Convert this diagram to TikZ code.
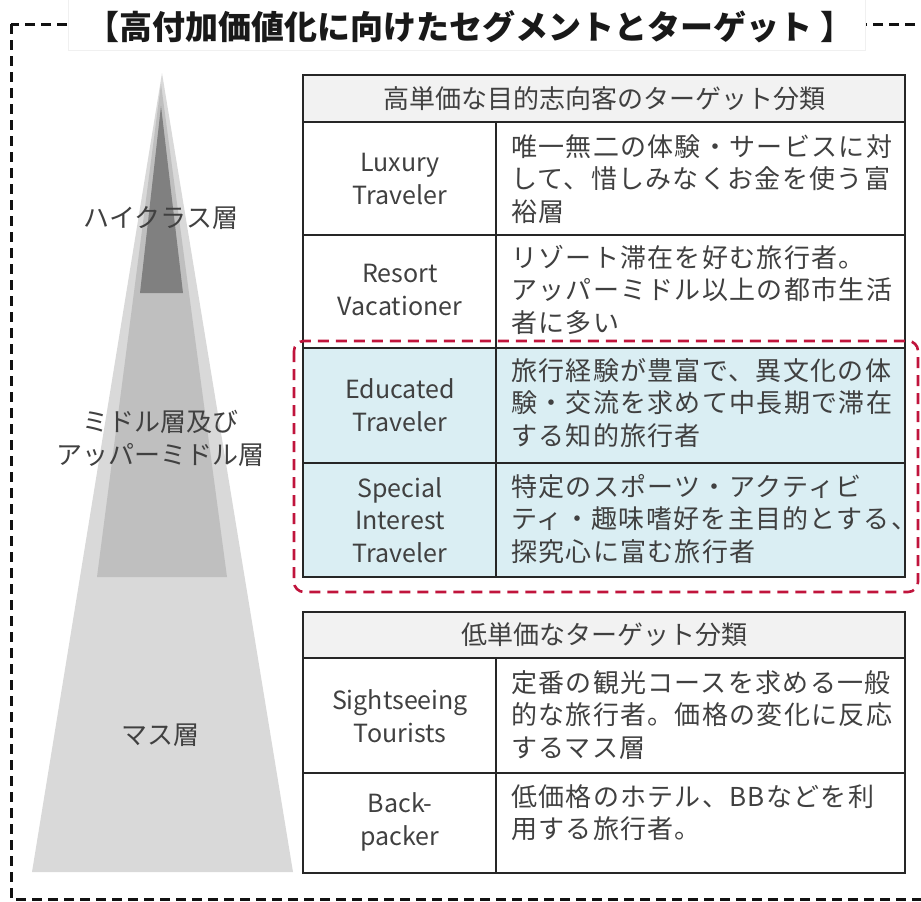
\documentclass[tikz,border=0pt]{standalone}
\usepackage{fontspec}
\setmainfont{Noto Sans CJK JP}
\newfontfamily\jpspaced{Noto Sans CJK JP}[LetterSpace=5]
\definecolor{framec}{HTML}{111111}
\definecolor{txt}{HTML}{404040}
\definecolor{pyrA}{HTML}{D9D9D9}
\definecolor{pyrB}{HTML}{BFBFBF}
\definecolor{pyrC}{HTML}{808080}
\definecolor{hdrfill}{HTML}{F2F2F2}
\definecolor{bluefill}{HTML}{DAEEF3}
\definecolor{tline}{HTML}{262626}
\definecolor{redd}{HTML}{C0143C}
\tikzset{
  frameline/.style={draw=framec, line width=3pt, dash pattern=on 10pt off 6pt},
  titlebox/.style={draw=black!6, fill=white, line width=1pt, inner sep=0pt},
  titletext/.style={font=\fontsize{33}{38}\selectfont\bfseries, text=black!90},
  pyrlab/.style={font=\fontsize{26}{33}\selectfont, text=txt, align=center, inner sep=0pt},
  cellbox/.style={draw=tline, line width=2pt},
  hdrtext/.style={font=\fontsize{26}{32}\selectfont, text=txt, inner sep=0pt},
  entext/.style={font=\fontsize{25}{32.5}\selectfont, text=txt, align=center, inner sep=0pt},
  jptext/.style={font=\jpspaced\fontsize{26}{32.5}\selectfont, text=txt, align=left, inner sep=0pt, anchor=north west},
  reddash/.style={draw=redd, line width=2.6pt, dash pattern=on 11pt off 7pt, rounded corners=10pt}
}
\begin{document}
\begin{tikzpicture}[x=1pt,y=-1pt]
\useasboundingbox (0,0) rectangle (921,902);
\clip (0,0) rectangle (921,902);

% outer dashed frame
\draw[frameline] (11,24) rectangle (980,899);

% title
\node[titlebox, minimum width=797pt, minimum height=56pt] (tbox) at (466.5,22) {};
\node[titletext] (title) at (470,27) {【高付加価値化に向けたセグメントとターゲット 】};

% pyramid
\fill[pyrA] (162,73) -- (293,872) -- (32,872) -- cycle;
\fill[pyrB] (161,84) -- (227,577) -- (97,577) -- cycle;
\fill[pyrC] (161,106) -- (183,293) -- (140,293) -- cycle;
\node[pyrlab] (high) at (161,218) {ハイクラス層};
\node[pyrlab] (mid) at (160,438) {ミドル層及び\\アッパーミドル層};
\node[pyrlab] (mass) at (160,735) {マス層};

% upper table
\draw[cellbox, fill=hdrfill] (303,75) rectangle (905,122);
\draw[cellbox] (303,122) rectangle (496,235);
\draw[cellbox] (496,122) rectangle (905,235);
\draw[cellbox] (303,235) rectangle (496,348);
\draw[cellbox] (496,235) rectangle (905,348);
\draw[cellbox, fill=bluefill] (303,348) rectangle (496,463);
\draw[cellbox, fill=bluefill] (496,348) rectangle (905,463);
\draw[cellbox, fill=bluefill] (303,463) rectangle (496,577);
\draw[cellbox, fill=bluefill] (496,463) rectangle (905,577);

\node[hdrtext] (h1) at (604,99) {高単価な目的志向客のターゲット分類};
\node[entext] (e1) at (400,179) {Luxury\\Traveler};
\node[jptext] (j1) at (511,134) {唯一無二の体験・サービスに対\\して、惜しみなくお金を使う富\\裕層};
\node[entext] (e2) at (400,290) {Resort\\Vacationer};
\node[jptext] (j2) at (511,245) {リゾート滞在を好む旅行者。\\アッパーミドル以上の都市生活\\者に多い};
\node[entext] (e3) at (400,405) {Educated\\Traveler};
\node[jptext] (j3) at (511,358) {旅行経験が豊富で、異文化の体\\験・交流を求めて中長期で滞在\\する知的旅行者};
\node[entext] (e4) at (400,520) {Special\\Interest\\Traveler};
\node[jptext] (j4) at (511,474) {特定のスポーツ・アクティビ\\ティ・趣味嗜好を主目的とする、\\探究心に富む旅行者};

% red dashed highlight
\draw[reddash] (294,341) rectangle (918,592);

% lower table
\draw[cellbox, fill=hdrfill] (303,612) rectangle (905,658);
\draw[cellbox] (303,658) rectangle (496,773);
\draw[cellbox] (496,658) rectangle (905,773);
\draw[cellbox] (303,773) rectangle (496,873);
\draw[cellbox] (496,773) rectangle (905,873);

\node[hdrtext] (h2) at (604,635) {低単価なターゲット分類};
\node[entext] (e5) at (400,716) {Sightseeing\\Tourists};
\node[jptext] (j5) at (511,670) {定番の観光コースを求める一般\\的な旅行者。価格の変化に反応\\するマス層};
\node[entext] (e6) at (400,822) {Back-\\packer};
\node[jptext] (j6) at (511,784) {低価格のホテル、BBなどを利\\用する旅行者。};
\end{tikzpicture}
\end{document}
